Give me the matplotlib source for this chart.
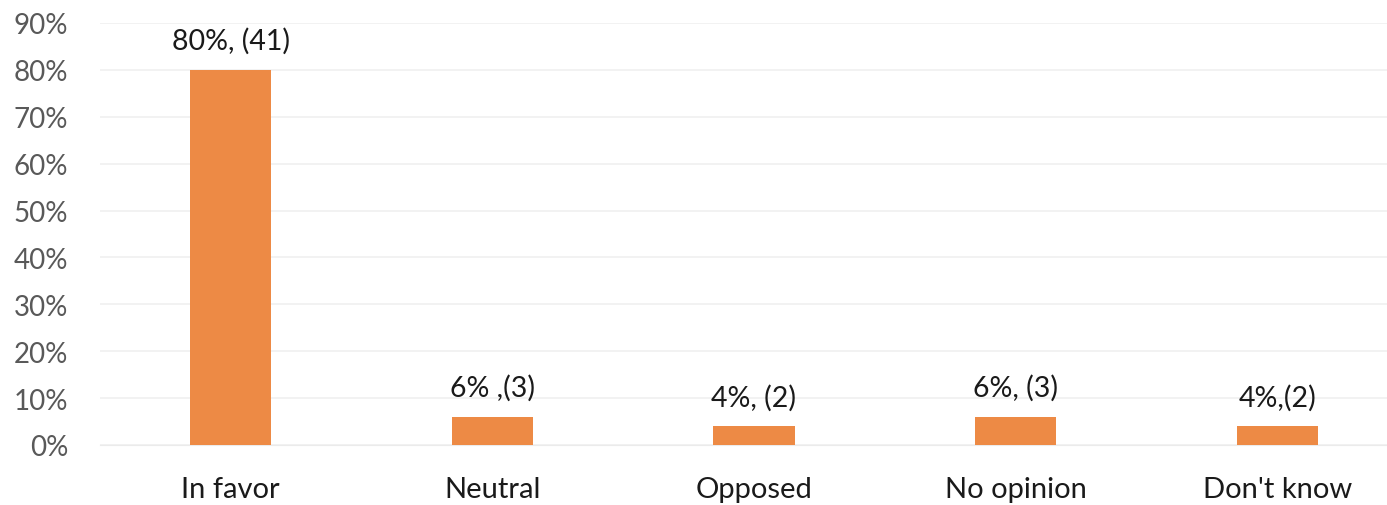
import matplotlib
matplotlib.use("Agg")
import matplotlib.pyplot as plt

categories = ["In favor", "Neutral", "Opposed", "No opinion", "Don't know"]
percent = [80, 6, 4, 6, 4]
labels = ["80%, (41)", "6% ,(3)", "4%, (2)", "6%, (3)", "4%,(2)"]
yticks = [0, 10, 20, 30, 40, 50, 60, 70, 80, 90]

plt.rcParams["font.family"] = ["Lato", "DejaVu Sans"]

fig = plt.figure(figsize=(13.87, 5.06), dpi=100)
ax = fig.add_axes([0.0721, 0.1186, 0.943, 0.834])

x = range(len(categories))
bars = ax.bar(x, percent, width=0.31, color="#ED8A45", zorder=3)

for b, txt in zip(bars, labels):
    ax.text(b.get_x() + b.get_width() / 2, b.get_height() + 3.4, txt,
            ha="center", va="bottom", fontsize=20.5, color="#1a1a1a")

ax.set_xlim(-0.5, len(categories) - 0.5)
ax.set_ylim(0, 90)
ax.set_yticks(yticks)
ax.set_yticklabels([f"{v}%" for v in yticks])
ax.set_xticks(list(x))
ax.set_xticklabels(categories)
ax.tick_params(axis="y", length=0, labelsize=20, labelcolor="#595959", pad=23)
ax.tick_params(axis="x", length=0, labelsize=21, labelcolor="#1a1a1a", pad=22)

ax.grid(axis="y", color="#f0f0f0", linewidth=1.2, zorder=0)
for s in ["top", "right", "left"]:
    ax.spines[s].set_visible(False)
ax.spines["bottom"].set_color("#ebebeb")

fig.savefig("out.png", dpi=100)
